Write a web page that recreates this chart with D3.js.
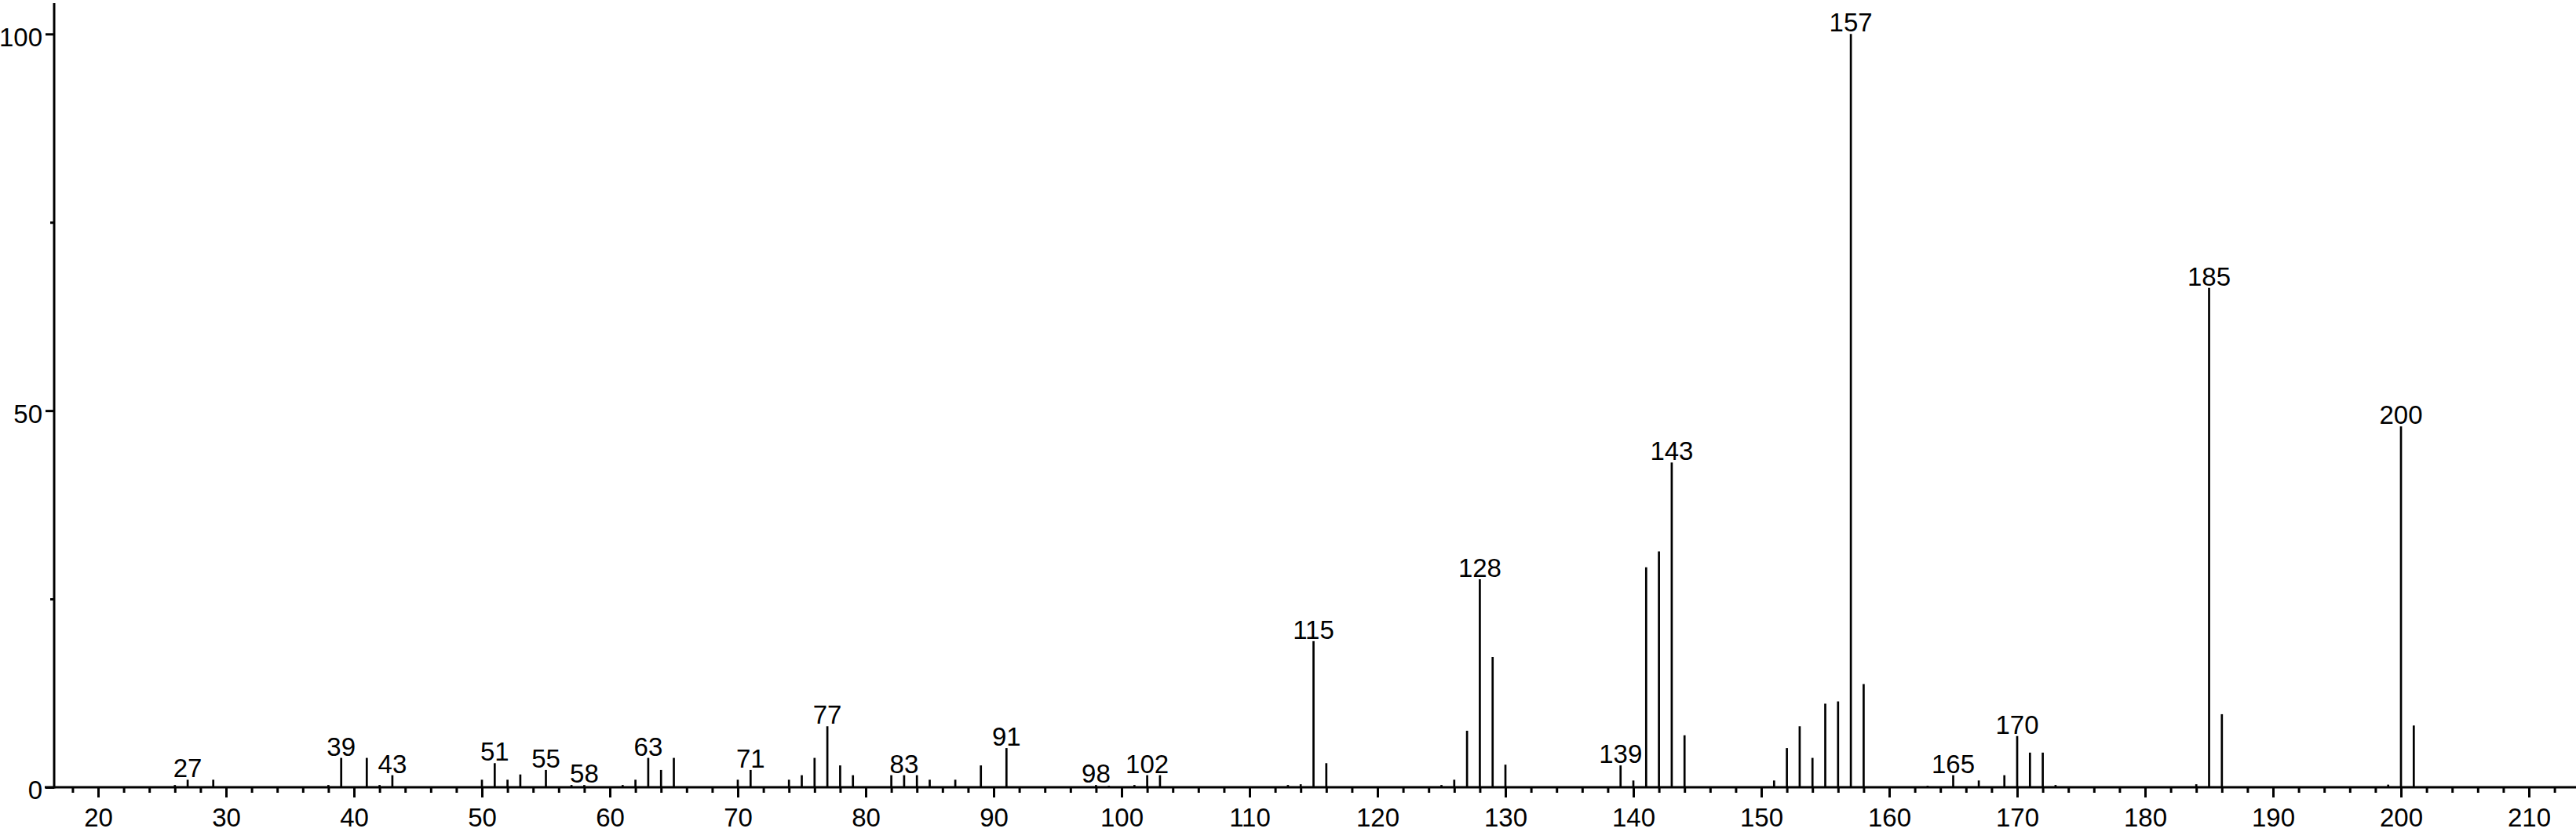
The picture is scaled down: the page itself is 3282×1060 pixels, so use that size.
<!DOCTYPE html>
<html>
<head>
<meta charset="utf-8">
<script src="https://cdn.jsdelivr.net/npm/d3@7"></script>
<style>
html,body{margin:0;padding:0;background:#fff;}
svg{display:block;}
text{font-family:"Liberation Sans",Arial,Helvetica,sans-serif;fill:#000;}
</style>
</head>
<body>
<svg id="chart" width="3282" height="1060"></svg>
<script>
// m/z values of the peaks
const mz = [26,27,29,38,39,41,42,43,50,51,52,53,55,57,58,61,62,63,64,65,70,71,74,75,76,77,78,79,82,83,84,85,87,89,91,
  98,99,101,102,103,113,114,115,116,125,126,127,128,129,130,139,140,141,142,143,144,
  151,152,153,154,155,156,157,158,163,165,167,169,170,171,172,173,184,185,186,199,200,201];
// relative intensities (%)
const intensity = [0.3,1.0,1.0,0.3,3.9,3.9,0.3,1.6,1.0,3.2,1.0,1.7,2.3,0.3,0.3,0.3,1.0,3.9,2.3,3.9,1.0,2.3,1.0,1.6,3.9,8.1,2.9,1.6,1.6,1.6,1.6,1.0,1.0,2.9,5.2,
  0.3,0.2,0.3,1.6,1.6,0.3,0.4,19.4,3.2,0.3,1.0,7.5,27.6,17.3,3.0,2.9,0.9,29.2,31.3,43.1,6.9,
  0.9,5.2,8.1,3.9,11.1,11.4,100,13.7,0.2,1.6,0.9,1.6,6.8,4.6,4.6,0.3,0.4,66.3,9.7,0.35,47.9,8.2];
// peaks that carry an m/z label
const labeledPeaks = [27,39,43,51,55,58,63,71,77,83,91,98,102,115,128,139,143,157,165,170,185,200];
// axis ticks
const xMajorTicks = [20,30,40,50,60,70,80,90,100,110,120,130,140,150,160,170,180,190,200,210];
const xMinorTicks = d3.range(18, 214, 2).filter(v => v % 10 !== 0);
const yMajorTicks = [0,50,100];
const yMinorTicks = [25,75];

const W = 3282, H = 1060;
const left = 69, baseY = 1003, topY = 43.3;
const svg = d3.select("#chart");

const x = d3.scaleLinear().domain([16.564, 213.68]).range([left, W]);
const y = d3.scaleLinear().domain([0, 100]).range([baseY, topY]);

const peaks = mz.map((m, i) => ({m, v: intensity[i]}));

// peaks
svg.append("g").selectAll("line").data(peaks).join("line")
  .attr("x1", d => x(d.m)).attr("x2", d => x(d.m))
  .attr("y1", y(0)).attr("y2", d => y(d.v))
  .attr("stroke", "#000").attr("stroke-width", 2.7);

// x axis minor ticks
const gxMinor = svg.append("g").attr("transform", `translate(0,${baseY})`)
  .call(d3.axisBottom(x).tickValues(xMinorTicks).tickSize(7).tickFormat(""));
gxMinor.select(".domain").remove();
// x axis major ticks
const gx = svg.append("g").attr("transform", `translate(0,${baseY})`)
  .call(d3.axisBottom(x).tickValues(xMajorTicks).tickSize(13).tickPadding(14).tickFormat(d3.format("d")));
gx.select(".domain").remove();
svg.selectAll(".tick line").attr("stroke", "#000").attr("stroke-width", 3);
gx.selectAll("text").style("font-size", "33px");

// y axis
const gyMinor = svg.append("g").attr("transform", `translate(${left},0)`)
  .call(d3.axisLeft(y).tickValues(yMinorTicks).tickSize(5).tickFormat(""));
gyMinor.select(".domain").remove();
const gy = svg.append("g").attr("transform", `translate(${left},0)`)
  .call(d3.axisLeft(y).tickValues(yMajorTicks).tickSize(11).tickPadding(4).tickFormat(d3.format("d")));
gy.select(".domain").remove();
gyMinor.selectAll(".tick line").attr("stroke", "#000").attr("stroke-width", 3);
gy.selectAll(".tick line").attr("stroke", "#000").attr("stroke-width", 3);
gy.selectAll("text").style("font-size", "33px").attr("dy", "0.45em");

// axis lines
svg.append("line").attr("x1", 57).attr("x2", W).attr("y1", baseY).attr("y2", baseY)
  .attr("stroke", "#000").attr("stroke-width", 3);
svg.append("line").attr("x1", left).attr("x2", left).attr("y1", 4).attr("y2", baseY + 1.5)
  .attr("stroke", "#000").attr("stroke-width", 3);

// peak labels
svg.append("g").selectAll("text").data(peaks.filter(d => labeledPeaks.includes(d.m))).join("text")
  .attr("x", d => x(d.m)).attr("y", d => y(d.v) - 3)
  .attr("text-anchor", "middle").style("font-size", "33px")
  .text(d => d.m);
</script>
</body>
</html>
